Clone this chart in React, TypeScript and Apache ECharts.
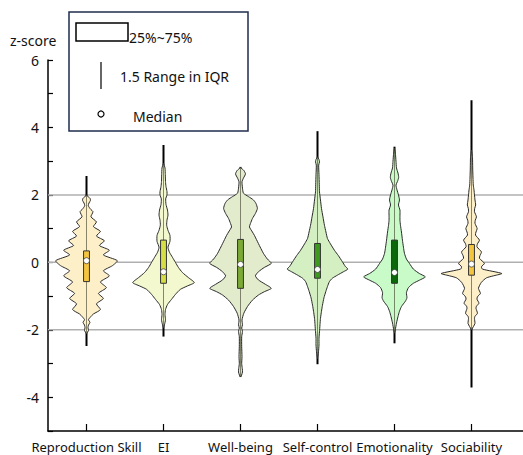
import React, { useEffect, useRef } from "react";
import * as echarts from "echarts";

const categories = ["Reproduction Skill", "EI", "Well-being", "Self-control", "Emotionality", "Sociability"];

// density profiles: [z-score, relative density]
const profileReproduction = [
  [1.99, 0], [1.9, 3.5], [1.84, 4], [1.76, 2.5], [1.68, 1.8], [1.58, 4], [1.5, 6.5], [1.35, 4.5], [1.2, 10], [1.06, 7],
  [0.92, 14], [0.78, 10], [0.64, 18], [0.5, 13], [0.36, 23], [0.22, 17], [0.05, 31], [-0.1, 26], [-0.25, 17], [-0.4, 23],
  [-0.58, 14], [-0.75, 20], [-0.92, 12], [-1.07, 17], [-1.23, 10], [-1.4, 14], [-1.53, 7], [-1.62, 4], [-1.7, 2], [-1.78, 3.5],
  [-1.86, 2], [-1.94, 1.5], [-2.02, 2], [-2.12, 0],
];
const profileEI = [
  [2.94, 0], [2.8, 1.5], [2.6, 1.8], [2.4, 2], [2.25, 2.5], [2.1, 3.5], [2.0, 3.5], [1.88, 2.2], [1.72, 2.5], [1.55, 4],
  [1.4, 4.5], [1.25, 3.5], [1.1, 3.2], [0.95, 4.5], [0.8, 6.5], [0.62, 6.5], [0.45, 4.5], [0.3, 6], [0.15, 9], [0.0, 12],
  [-0.15, 15], [-0.3, 19], [-0.45, 25], [-0.6, 31], [-0.7, 24], [-0.8, 17], [-0.95, 12], [-1.1, 8], [-1.25, 4], [-1.4, 2],
  [-1.55, 1.5], [-1.7, 2], [-1.85, 1], [-1.95, 0],
];
const profileWellbeing = [
  [2.81, 0], [2.72, 3.5], [2.62, 5], [2.5, 3], [2.39, 1.5], [2.2, 2], [2.05, 3], [1.95, 8], [1.85, 13], [1.75, 15.5],
  [1.6, 17], [1.45, 15], [1.3, 12], [1.15, 10], [1.05, 9], [0.9, 12], [0.8, 14], [0.56, 18], [0.27, 23], [0.1, 27],
  [-0.03, 31], [-0.15, 24], [-0.28, 18], [-0.4, 15], [-0.52, 18], [-0.65, 25], [-0.77, 31], [-0.87, 24], [-0.97, 18], [-1.12, 12],
  [-1.31, 7], [-1.51, 3.3], [-1.71, 1.5], [-1.85, 2], [-1.95, 1.2], [-2.05, 2], [-2.2, 1.2], [-2.5, 1.2], [-2.8, 1.5], [-3.0, 1.2],
  [-3.15, 1.8], [-3.25, 2], [-3.35, 1], [-3.4, 0],
];
const profileSelfControl = [
  [3.13, 0], [3.05, 1.5], [2.98, 2], [2.88, 1.2], [2.6, 1.5], [2.3, 1.8], [2.09, 2], [1.85, 3], [1.6, 4], [1.35, 5.5],
  [1.1, 7], [0.9, 8.5], [0.71, 10], [0.55, 13], [0.36, 17], [0.2, 21], [0.02, 25], [-0.12, 28], [-0.2, 30.5], [-0.28, 26],
  [-0.38, 20], [-0.47, 15], [-0.57, 12], [-0.72, 10], [-0.87, 8.3], [-1.05, 6.5], [-1.27, 5], [-1.45, 4], [-1.66, 3], [-1.85, 2.5],
  [-2.06, 2], [-2.25, 1.5], [-2.45, 1.5], [-2.65, 1], [-2.85, 0],
];
const profileEmotionality = [
  [3.38, 0], [3.2, 1], [3.0, 1.5], [2.8, 2], [2.65, 3.5], [2.52, 4.2], [2.4, 3], [2.29, 1.5], [2.15, 2.5], [2.0, 4],
  [1.85, 5], [1.7, 4], [1.55, 5.5], [1.4, 5.5], [1.25, 5.5], [1.1, 6], [0.9, 7], [0.66, 8], [0.45, 9], [0.27, 10],
  [0.1, 12], [-0.03, 15], [-0.2, 19], [-0.33, 25], [-0.43, 31], [-0.53, 25], [-0.62, 19], [-0.75, 14], [-0.9, 12], [-1.05, 12.5],
  [-1.15, 11], [-1.31, 7], [-1.45, 5], [-1.61, 3.5], [-1.8, 2], [-2.0, 0.8], [-2.1, 0],
];
const profileSociability = [
  [3.33, 0], [3.1, 1], [2.8, 1.2], [2.5, 1.5], [2.29, 1.8], [2.15, 2.5], [2.0, 3], [1.85, 3.5], [1.7, 4.2], [1.6, 3.2],
  [1.5, 3], [1.35, 5], [1.25, 3.8], [1.16, 3.5], [1.0, 5.7], [0.9, 4.5], [0.81, 4], [0.66, 8], [0.55, 6], [0.46, 5.5],
  [0.31, 10], [0.2, 8.5], [0.12, 8], [-0.03, 13], [-0.13, 10], [-0.2, 11], [-0.33, 30.5], [-0.4, 22], [-0.46, 15], [-0.59, 10],
  [-0.77, 7], [-0.92, 9], [-1.02, 6], [-1.09, 5.5], [-1.21, 7.5], [-1.3, 5], [-1.36, 4.5], [-1.51, 6], [-1.6, 3.5], [-1.66, 3],
  [-1.81, 3.5], [-1.9, 2], [-2.0, 0],
];
const profiles = [profileReproduction, profileEI, profileWellbeing, profileSelfControl, profileEmotionality, profileSociability];

const q1Values = [-0.57, -0.62, -0.77, -0.47, -0.62, -0.38];
const q3Values = [0.34, 0.66, 0.68, 0.56, 0.66, 0.53];
const medianValues = [0.05, -0.28, -0.06, -0.21, -0.3, -0.05];
const whiskerLow = [-2.48, -2.2, -3.39, -3.02, -2.4, -3.71];
const whiskerHigh = [2.56, 3.48, 2.83, 3.89, 3.43, 4.81];

const gridValues = [-2, 0, 2];

const fillColors = ["#fdefc8", "#f3f8cf", "#e3ebcd", "#d4efc2", "#c8fbc8", "#fdefc8"];
const boxColors = ["#f5c540", "#d5df45", "#7bab35", "#3e9a1e", "#0a6a0a", "#f5c540"];

const FONT = "Noto Sans";

export default function App() {
  const ref = useRef<HTMLDivElement>(null);
  useEffect(() => {
    if (!ref.current) return;
    const chart = echarts.init(ref.current, null, { renderer: "svg" });
    const widthScale = 0.4 / 31;
    const boxHalf = 0.038;

    const option: any = {
      animation: false,
      backgroundColor: "#ffffff",
      grid: { left: 48, right: 0, top: 60, bottom: 24 },
      xAxis: {
        type: "value",
        min: -0.5,
        max: -0.5 + 475 / 77,
        splitLine: { show: false },
        axisLine: { show: true, onZero: false, lineStyle: { color: "#000", width: 1.5 } },
        axisTick: { show: true, inside: true, length: 7, lineStyle: { color: "#000", width: 1.2 }, customValues: [0, 1, 2, 3, 4, 5] },
        axisLabel: {
          customValues: [0, 1, 2, 3, 4, 5],
          formatter: (v: number) => categories[Math.round(v)] ?? "",
          color: "#111",
          fontFamily: FONT,
          fontSize: 13,
          margin: 9,
        },
      },
      yAxis: {
        type: "value",
        min: -5,
        max: 6,
        interval: 1,
        splitLine: { show: false },
        axisLine: { show: true, onZero: false, lineStyle: { color: "#000", width: 1.5 } },
        axisTick: { show: true, inside: true, length: 5, lineStyle: { color: "#000", width: 1.2 } },
        axisLabel: {
          formatter: (v: number) => (v % 2 === 0 ? String(v) : ""),
          color: "#111",
          fontFamily: FONT,
          fontSize: 14,
          margin: 9,
        },
      },
      graphic: [
        { type: "text", left: 10, top: 33, style: { text: "z-score", font: `14px '${FONT}'`, fill: "#111" } },
        {
          type: "rect", shape: { x: 69, y: 12, width: 179, height: 119 },
          style: { fill: "#fff", stroke: "#1f2d4d", lineWidth: 1.5 }, z: 100,
        },
        {
          type: "rect", shape: { x: 76, y: 23, width: 52, height: 18 },
          style: { fill: "#fff", stroke: "#000", lineWidth: 1.5 }, z: 101,
        },
        { type: "text", x: 129, y: 37, style: { text: "25%~75%", font: `14px '${FONT}'`, fill: "#111", verticalAlign: "middle" }, z: 101 },
        { type: "line", shape: { x1: 101, y1: 62, x2: 101, y2: 89 }, style: { stroke: "#000", lineWidth: 1.2 }, z: 101 },
        { type: "text", x: 120, y: 76, style: { text: "1.5 Range in IQR", font: `14px '${FONT}'`, fill: "#111", verticalAlign: "middle" }, z: 101 },
        { type: "circle", shape: { cx: 101, cy: 114, r: 3 }, style: { fill: "#fff", stroke: "#000", lineWidth: 1.2 }, z: 101 },
        { type: "text", x: 133, y: 116, style: { text: "Median", font: `14px '${FONT}'`, fill: "#111", verticalAlign: "middle" }, z: 101 },
      ],
      series: [
        {
          type: "custom",
          z: 1,
          silent: true,
          data: gridValues.map((v) => [0, v]),
          renderItem: (params: any, api: any) => {
            const cs = params.coordSys;
            const y = api.coord([0, api.value(1)])[1];
            return {
              type: "line",
              shape: { x1: cs.x, y1: y, x2: cs.x + cs.width, y2: y },
              style: { stroke: "#b0b0b0", lineWidth: 1.5 },
            };
          },
        },
        {
          type: "custom",
          z: 2,
          silent: true,
          clip: false,
          data: categories.map((_, i) => [i, medianValues[i]]),
          renderItem: (params: any, api: any) => {
            const i = api.value(0);
            const prof = profiles[i];
            const right = prof.map(([v, d]) => api.coord([i + d * widthScale, v]));
            const left = prof.slice().reverse().map(([v, d]) => api.coord([i - d * widthScale, v]));
            const pts = right.concat(left);
            const wTop = api.coord([i, whiskerHigh[i]]);
            const wBot = api.coord([i, whiskerLow[i]]);
            const vTop = api.coord([i, prof[0][0]]);
            const vBot = api.coord([i, prof[prof.length - 1][0]]);
            const bTL = api.coord([i - boxHalf, q3Values[i]]);
            const bBR = api.coord([i + boxHalf, q1Values[i]]);
            const med = api.coord([i, medianValues[i]]);
            return {
              type: "group",
              children: [
                { type: "line", shape: { x1: wTop[0], y1: wTop[1], x2: wBot[0], y2: wBot[1] }, style: { stroke: "#000", lineWidth: 2 } },
                { type: "polygon", shape: { points: pts, smooth: 0.2 }, style: { fill: fillColors[i], stroke: "#2a2a2a", lineWidth: 1 } },
                { type: "line", shape: { x1: vTop[0], y1: vTop[1], x2: vBot[0], y2: vBot[1] }, style: { stroke: "rgba(60,60,40,0.6)", lineWidth: 1 } },
                {
                  type: "rect",
                  shape: { x: bTL[0], y: bTL[1], width: bBR[0] - bTL[0], height: bBR[1] - bTL[1] },
                  style: { fill: boxColors[i], stroke: "#333", lineWidth: 1 },
                },
                { type: "circle", shape: { cx: med[0], cy: med[1], r: 3 }, style: { fill: "#fff", stroke: "#444", lineWidth: 0.8 } },
              ],
            };
          },
        },
      ],
    };
    chart.setOption(option);
    return () => chart.dispose();
  }, []);
  return <div ref={ref} style={{ position: "absolute", left: 0, top: 0, width: 523, height: 455 }} />;
}
